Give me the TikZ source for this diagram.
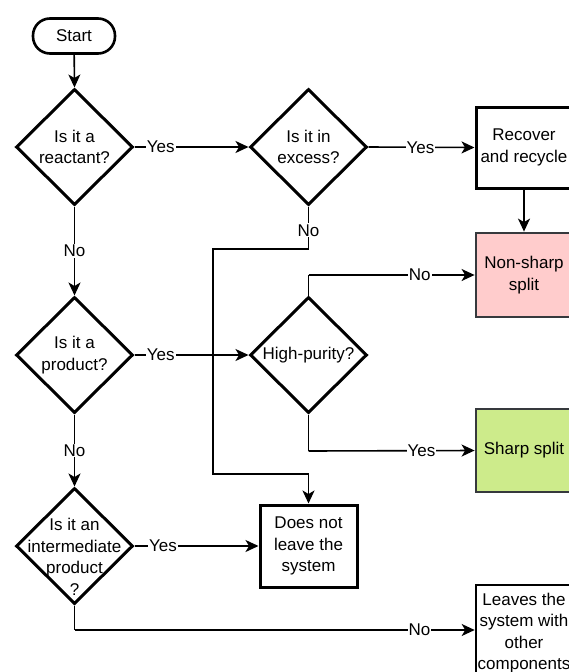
\documentclass[tikz,border=0pt]{standalone}
\usepackage{fontspec}
\setmainfont{Liberation Sans}
\usetikzlibrary{shapes.geometric,arrows.meta}
\definecolor{pinkfill}{HTML}{FFCCCC}
\definecolor{greenfill}{HTML}{CDEB8B}
\definecolor{darkborder}{HTML}{36393D}
\begin{document}
\begin{tikzpicture}[x=1pt,y=-1pt,
  every node/.style={font=\fontsize{17}{21.5}\selectfont},
  dia/.style={draw, diamond, line width=3pt, minimum width=117pt, minimum height=116pt, inner sep=0pt, align=center},
  dtext/.style={align=center, inner sep=0pt},
  procbox/.style={draw, rectangle, line width=3pt, minimum width=97pt, align=center, inner sep=1pt},
  colbox/.style={draw=darkborder, rectangle, line width=2.8pt, minimum width=96pt, align=center, inner sep=1pt},
  termbox/.style={draw, rectangle, rounded corners=17pt, line width=2.6pt, minimum width=82pt, minimum height=35pt},
  conn/.style={line width=1.6pt, -{Stealth[length=13pt,width=12pt,inset=3.5pt]}},
  plain/.style={line width=1.6pt},
  lab/.style={fill=white, inner sep=1pt}
]
\useasboundingbox (0,0) rectangle (568,672);

\node[termbox] (start) at (74,36) {Start};
\node[dia] (d1) at (74.5,147) {};
\node[dtext] (d1t) at (74.5,147) {Is it a\\reactant?};
\node[dia] (d2) at (308.5,147) {};
\node[dtext] (d2t) at (308.5,147) {Is it in\\excess?};
\node[procbox, minimum width=96pt, minimum height=81pt] (rec) at (524,147.5) {Recover\\and recycle};
\node[colbox, fill=pinkfill, minimum height=84pt] (ns) at (524,275) {Non-sharp\\split};
\node[dia] (d3) at (74.5,355) {};
\node[dtext] (d3t) at (74.5,355) {Is it a\\product?};
\node[dia] (hp) at (308.5,355) {};
\node[dtext] (hpt) at (308.5,355) {High-purity?};
\node[colbox, fill=greenfill, minimum height=83pt] (ss) at (524,450.5) {Sharp split};
\node[dia] (d4) at (74.5,546) {};
\node[dtext] (d4t) at (74.5,557) {Is it an\\intermediate\\product\\?};
\node[procbox, minimum height=82pt] (dn) at (308.5,546) {Does not\\leave the\\system};
\node[procbox, line width=2.6pt, minimum width=96pt, minimum height=96pt] (lv) at (524,633) {Leaves the\\system with\\other\\components};

\coordinate (a1) at (308.5,249);
\coordinate (a2) at (213,249);
\coordinate (a3) at (213,474);
\coordinate (a4) at (308.5,474);
\coordinate (b1) at (308.5,275);
\coordinate (b2) at (308.5,451);
\coordinate (c1) at (74.5,630);

\draw[conn] (start) -- (d1.north);
\draw[conn] (d1.east) -- node[lab, pos=0.23] {Yes} (d2.west);
\draw[conn] (d2.east) -- node[lab, pos=0.49] {Yes} (rec.west);
\draw[conn] (rec.south) -- (ns.north);
\draw[conn] (d1.south) -- node[lab, pos=0.5] {No} (d3.north);
\draw[plain] (d2.south) -- node[lab, pos=0.56] {No} (a1) -- (a2) -- (a3) -- (a4);
\draw[conn] (a4) -- (dn.north);
\draw[conn] (d3.east) -- node[lab, pos=0.23] {Yes} (hp.west);
\draw[plain] (hp.north) -- (b1);
\draw[conn] (b1) -- node[lab, pos=0.67] {No} (ns.west);
\draw[plain] (hp.south) -- (b2);
\draw[conn] (b2) -- node[lab, pos=0.68] {Yes} (ss.west);
\draw[conn] (d3.south) -- node[lab, pos=0.5] {No} (d4.north);
\draw[conn] (d4.east) -- node[lab, pos=0.23] {Yes} (dn.west);
\draw[plain] (d4.south) -- (c1);
\draw[conn] (c1) -- node[lab, pos=0.862] {No} (c1 -| lv.west);
\end{tikzpicture}
\end{document}
